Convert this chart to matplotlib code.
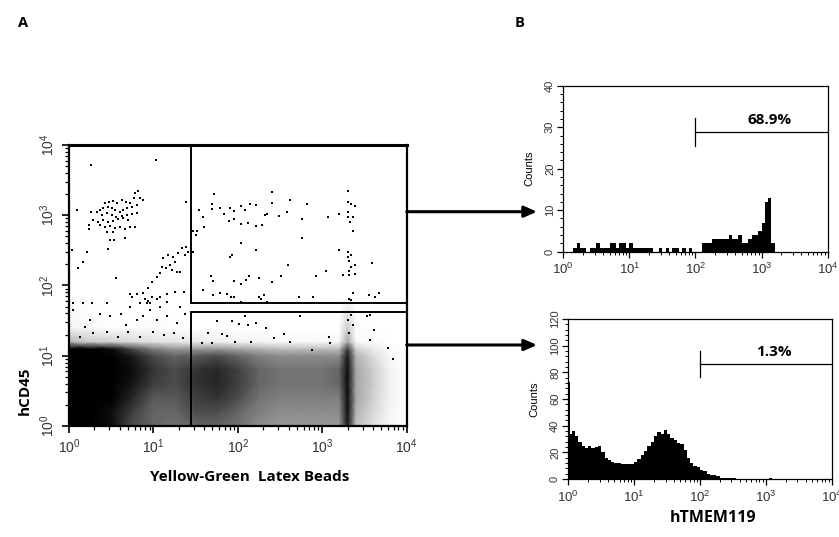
import numpy as np
import matplotlib.pyplot as plt
from matplotlib.ticker import LogLocator, MultipleLocator, NullFormatter
from matplotlib.patches import Rectangle

plt.rcParams['font.family'] = ['Liberation Sans', 'DejaVu Sans']
plt.rcParams['mathtext.fontset'] = 'custom'
plt.rcParams['mathtext.rm'] = 'Liberation Sans'

# ---- panel A: hCD45 vs bead uptake (all positions in log10 decades) ----
# density of the main population (0 = empty, 1 = solid black)
dens_x = [0, 0.25, 0.5, 0.75, 1.0, 1.25, 1.5, 1.75, 2.0, 2.25, 2.5, 2.75, 3.0, 3.2, 3.3, 3.4, 3.6, 3.8, 4.0]
dens_y = [0, 0.2, 0.4, 0.6, 0.8, 1.0, 1.1, 1.2, 1.4, 1.6, 1.8]
dens = [
    [1, 1, 0.95, 0.7, 0.6, 0.55, 0.6, 0.6, 0.55, 0.45, 0.4, 0.4, 0.4, 0.4, 0.9, 0.25, 0.12, 0.03, 0],
    [1, 1, 0.95, 0.75, 0.6, 0.6, 0.7, 0.7, 0.6, 0.5, 0.45, 0.45, 0.45, 0.45, 0.95, 0.3, 0.15, 0.04, 0],
    [1, 1, 1, 0.85, 0.65, 0.65, 0.75, 0.8, 0.7, 0.55, 0.5, 0.5, 0.5, 0.5, 0.95, 0.35, 0.18, 0.05, 0],
    [1, 1, 1, 0.92, 0.75, 0.7, 0.8, 0.85, 0.75, 0.6, 0.55, 0.55, 0.55, 0.6, 0.95, 0.35, 0.2, 0.05, 0],
    [1, 1, 1, 0.95, 0.8, 0.7, 0.8, 0.85, 0.75, 0.6, 0.55, 0.55, 0.55, 0.6, 0.95, 0.35, 0.2, 0.05, 0],
    [1, 1, 1, 0.9, 0.7, 0.6, 0.65, 0.7, 0.6, 0.5, 0.45, 0.45, 0.45, 0.45, 0.9, 0.3, 0.14, 0.03, 0],
    [1, 1, 0.95, 0.7, 0.5, 0.4, 0.4, 0.4, 0.35, 0.3, 0.25, 0.25, 0.25, 0.25, 0.75, 0.18, 0.08, 0.02, 0],
    [0.3, 0.2, 0.18, 0.15, 0.12, 0.1, 0.08, 0.07, 0.05, 0.04, 0.03, 0.03, 0.03, 0.03, 0.35, 0.03, 0.02, 0, 0],
    [0.05, 0.02, 0.01, 0.01, 0.02, 0.01, 0, 0, 0, 0, 0, 0, 0, 0, 0.2, 0.01, 0, 0, 0],
    [0.03, 0.01, 0, 0, 0, 0, 0, 0, 0, 0, 0, 0, 0, 0, 0.12, 0, 0, 0, 0],
    [0.02, 0, 0, 0, 0, 0, 0, 0, 0, 0, 0, 0, 0, 0, 0.03, 0, 0, 0, 0],
]

# sparse events in the upper gate
upper_pts = [
    (1.72, 3.30), (2.40, 3.33), (3.30, 3.35), (1.54, 3.07), (1.70, 3.16), (1.70, 3.09),
    (1.79, 3.10), (1.84, 3.02), (1.91, 3.10), (1.96, 3.06), (2.04, 3.13), (2.09, 3.07),
    (2.14, 3.16), (2.21, 3.14), (2.32, 3.00), (2.34, 3.02), (2.40, 3.18), (2.49, 2.99),
    (2.58, 3.05), (2.62, 3.21), (2.82, 3.16), (2.76, 2.94), (3.07, 2.97), (3.20, 3.02),
    (3.30, 3.19), (3.34, 3.16), (3.39, 3.13), (3.31, 3.05), (3.30, 2.98), (3.37, 2.97),
    (3.33, 2.91), (3.36, 2.78), (1.59, 2.97), (1.60, 2.83), (1.47, 2.78), (1.52, 2.78),
    (1.50, 2.72), (1.89, 2.92), (1.95, 2.94), (2.04, 2.88), (2.12, 2.89), (2.22, 2.85),
    (2.29, 2.86), (2.04, 2.61), (2.76, 2.67), (2.22, 2.51), (1.91, 2.40), (1.93, 2.44),
    (1.47, 2.48), (3.20, 2.51), (3.30, 2.48), (3.34, 2.44), (3.30, 2.40), (3.32, 2.35),
    (3.39, 2.29), (3.34, 2.26), (3.32, 2.21), (3.25, 2.15), (3.32, 2.15), (3.39, 2.17),
    (3.59, 2.32), (2.60, 2.29), (3.05, 2.21), (2.93, 2.13), (2.51, 2.13), (1.45, 2.13),
    (1.68, 2.13), (1.71, 2.07), (1.95, 2.07), (2.04, 2.02), (2.10, 2.08), (2.13, 2.13),
    (2.25, 2.11), (2.40, 2.05), (1.59, 1.94), (1.71, 1.86), (1.79, 1.90), (1.87, 1.88),
    (1.92, 1.83), (1.96, 1.83), (2.25, 1.84), (2.27, 1.81), (2.31, 1.86), (2.35, 1.77),
    (2.04, 1.77), (2.73, 1.84), (2.89, 1.84), (3.32, 1.81), (3.34, 1.80), (3.36, 1.90),
    (3.55, 1.86), (3.62, 1.83), (3.67, 1.90),
]

# sparse events left of the gates (incl. the cluster near 10^0.5 / 10^3)
left_pts = [
    (0.427, 3.170), (0.478, 3.193), (0.525, 3.208), (0.573, 3.170), (0.624, 3.217),
    (0.675, 3.193), (0.723, 3.170), (0.770, 3.241), (0.821, 3.350), (0.782, 3.312),
    (0.841, 3.241), (0.881, 3.217), (0.802, 3.146), (0.742, 3.122), (0.683, 3.098),
    (0.644, 3.075), (0.604, 3.051), (0.545, 3.075), (0.506, 3.098), (0.466, 3.122),
    (0.407, 3.098), (0.367, 3.075), (0.328, 3.051), (0.387, 3.004), (0.446, 3.027),
    (0.506, 3.004), (0.557, 2.980), (0.624, 2.989), (0.683, 3.004), (0.742, 3.018),
    (0.802, 3.027), (0.288, 2.932), (0.348, 2.909), (0.407, 2.932), (0.466, 2.909),
    (0.525, 2.923), (0.585, 2.942), (0.644, 2.956), (0.703, 2.932), (0.367, 2.861),
    (0.427, 2.828), (0.486, 2.847), (0.545, 2.814), (0.604, 2.828), (0.664, 2.800),
    (0.723, 2.828), (0.782, 2.828), (0.446, 2.766), (0.525, 2.766), (0.486, 2.648),
    (0.533, 2.648), (0.664, 2.671), (0.237, 2.861), (0.237, 2.800), (0.466, 2.515),
    (1.386, 3.184), (0.26, 3.71), (1.03, 3.79), (1.00, 3.99), (0.10, 3.07), (0.26, 3.05),
    (1.118, 2.387), (1.177, 2.434), (1.236, 2.410), (1.295, 2.458), (1.335, 2.529),
    (1.386, 2.543), (1.414, 2.482), (1.374, 2.434), (1.256, 2.339), (1.197, 2.292),
    (1.149, 2.244), (1.216, 2.221), (1.276, 2.197), (1.315, 2.197), (1.098, 2.268),
    (1.078, 2.173), (1.039, 2.126), (0.979, 2.055), (0.940, 1.960), (0.881, 1.888),
    (0.900, 1.803), (0.940, 1.784), (0.979, 1.841), (1.039, 1.803), (1.078, 1.841),
    (1.157, 1.879), (0.810, 1.879), (0.723, 1.879), (0.841, 1.746), (0.960, 1.746),
    (1.165, 1.770), (1.256, 1.912), (1.363, 1.912), (0.557, 2.102), (0.170, 2.339),
    (0.103, 2.244), (0.217, 2.482), (0.032, 2.505), (0.004, 2.173), (0.051, 1.746),
    (0.170, 1.746), (0.269, 1.746), (0.446, 1.746), (0.742, 1.841),
    (0.006, 1.30), (0.006, 1.40), (0.006, 1.50), (0.006, 1.60), (0.006, 1.70),
    (0.006, 1.80), (0.006, 1.90), (0.006, 2.00), (0.006, 2.10), (0.006, 2.30),
]

# sparse events just above the dense band
mid_pts = [
    (1.75, 1.50), (2.09, 1.56), (2.74, 1.56), (1.93, 1.50), (2.01, 1.45), (2.22, 1.47),
    (2.12, 1.44), (1.65, 1.32), (1.81, 1.31), (1.87, 1.28), (2.55, 1.31), (2.33, 1.39),
    (2.43, 1.25), (2.62, 1.20), (3.08, 1.26), (3.09, 1.18), (3.34, 1.58), (3.31, 1.51),
    (3.36, 1.44), (3.32, 1.32), (3.53, 1.56), (3.57, 1.58), (3.61, 1.37), (3.57, 1.22),
    (3.78, 1.11), (3.84, 0.96), (1.57, 1.18), (1.69, 1.18), (1.97, 1.20), (2.16, 1.20),
    (2.88, 1.08), (0.05, 1.65), (0.19, 1.41), (0.37, 1.60), (0.49, 1.56), (0.62, 1.60),
    (0.72, 1.70), (0.80, 1.51), (0.92, 1.75), (0.96, 1.65), (0.88, 1.56), (1.04, 1.51),
    (1.16, 1.56), (1.28, 1.46), (1.37, 1.60), (0.13, 1.27), (0.29, 1.32), (0.45, 1.34),
    (0.58, 1.27), (0.70, 1.34), (0.84, 1.27), (1.00, 1.34), (1.12, 1.30), (1.24, 1.32),
    (1.35, 1.25), (0.25, 1.51), (0.68, 1.44), (1.08, 1.70), (1.32, 1.70),
]

gate_x_low = 28
upper_gate_y = (56, 10000)
lower_gate_y = (1, 42)

# ---- panel B: hTMEM119 histograms (bins 0.05 decade wide) ----
h1_edges = np.arange(0, 4.0001, 0.05)
h1_counts = [0, 0, 0, 1, 2, 1, 1, 0, 1, 1, 2, 1, 1, 1, 2, 2, 1, 2, 2, 1,
             2, 1, 1, 1, 1, 1, 1, 0, 0, 1, 0, 1, 0, 1, 1, 0, 1, 0, 1, 0,
             0, 0, 2, 2, 2, 3, 3, 3, 3, 3, 4, 3, 3, 4, 2, 2, 3, 4, 4, 5,
             7, 12, 13, 2, 0, 0, 0, 0, 0, 0, 0, 0, 0, 0, 0, 0, 0, 0, 0, 0]
h1_gate, h1_gate_y, h1_label = 100, 28.8, '68.9%'

h2_edges = np.r_[0, 0.03, np.arange(0.05, 4.0001, 0.05)]
h2_counts = [73, 34, 36, 32, 28, 25, 23, 25, 23, 24, 25, 20, 16, 14, 13, 12, 12, 11, 11, 11, 11,
             13, 15, 18, 21, 25, 28, 32, 35, 34, 37, 34, 31, 29, 27, 26, 22, 16, 12, 10, 9,
             7, 6, 4, 3, 3, 2, 1, 1, 1, 0.5, 0.5, 0, 0, 0, 0, 0, 0, 0, 0, 0,
             0, 1, 0, 0, 0, 0, 0, 0, 0, 0, 0, 0, 0, 0, 0, 0, 0, 0, 0, 0]
h2_gate, h2_gate_y, h2_label = 100, 86.3, '1.3%'

tick_color = '#333333'
bold_font = dict(family=['Open Sans', 'DejaVu Sans'], weight='bold')

fig = plt.figure(figsize=(8.39, 5.37), dpi=100)
ax = fig.add_axes([0.0822, 0.2067, 0.4025, 0.5233])
ax1 = fig.add_axes([0.6714, 0.5313, 0.3151, 0.3091])
ax2 = fig.add_axes([0.6774, 0.1080, 0.3139, 0.2980])

# scatter panel
X, Y = np.meshgrid(10.0 ** np.array(dens_x), 10.0 ** np.array(dens_y))
ax.pcolormesh(X, Y, np.array(dens), shading='gouraud', cmap='gray_r', vmin=0, vmax=1)
for pts in (upper_pts, left_pts, mid_pts):
    p = 10.0 ** np.array(pts)
    ax.scatter(p[:, 0], p[:, 1], s=3, marker='s', color='black', linewidths=0)
for y0, y1 in (upper_gate_y, lower_gate_y):
    ax.add_patch(Rectangle((gate_x_low, y0), 10000 - gate_x_low, y1 - y0,
                           fill=False, edgecolor='black', lw=1.4, clip_on=False, zorder=5))
ax.set_xscale('log')
ax.set_yscale('log')
ax.set_xlim(1, 1e4)
ax.set_ylim(1, 1e4)
for s in ax.spines.values():
    s.set_linewidth(1.6)
ax.spines['top'].set_linewidth(2.2)
ax.tick_params(which='both', direction='out', colors='black', labelcolor=tick_color,
               labelsize=10)
ax.tick_params(which='major', length=5, width=1.2)
ax.tick_params(which='minor', length=3, width=0.9)
ax.tick_params(axis='y', labelrotation=90)
for lab in ax.get_yticklabels():
    lab.set_va('center')
for a in (ax.xaxis, ax.yaxis):
    a.set_major_locator(LogLocator(base=10, numticks=10))
    a.set_minor_locator(LogLocator(base=10, subs=np.arange(2, 10), numticks=10))
    a.set_minor_formatter(NullFormatter())

# histograms
for a, edges, counts, ymax, ystep, ymin_step, gate, gy, lab in (
        (ax1, h1_edges, h1_counts, 40, 10, 2, h1_gate, h1_gate_y, h1_label),
        (ax2, h2_edges, h2_counts, 120, 20, 4, h2_gate, h2_gate_y, h2_label)):
    a.stairs(counts, 10.0 ** edges, fill=True, color='black', lw=0)
    a.set_xscale('log')
    a.set_xlim(1, 1e4)
    a.set_ylim(0, ymax)
    a.yaxis.set_major_locator(MultipleLocator(ystep))
    a.yaxis.set_minor_locator(MultipleLocator(ymin_step))
    a.xaxis.set_major_locator(LogLocator(base=10, numticks=10))
    a.xaxis.set_minor_locator(LogLocator(base=10, subs=np.arange(2, 10), numticks=10))
    a.xaxis.set_minor_formatter(NullFormatter())
    for s in a.spines.values():
        s.set_linewidth(0.9)
    a.tick_params(which='both', direction='out', colors='black', labelcolor=tick_color)
    a.tick_params(which='major', length=4, width=0.9)
    a.tick_params(which='minor', length=2.5, width=0.7)
    a.tick_params(axis='x', labelsize=9.5)
    a.tick_params(axis='y', labelsize=8, labelrotation=90, pad=2)
    for t in a.get_yticklabels():
        t.set_va('center')
    # marker gate
    a.plot([gate, gate], [gy - ymax * 0.083, gy + ymax * 0.083], color='black', lw=0.9)
    a.plot([gate, 1e4], [gy, gy], color='black', lw=0.9, clip_on=False)
    a.text(10 ** ((np.log10(gate) + 4.25) / 2), gy + ymax * 0.03, lab, ha='center',
           va='bottom', fontsize=11, **bold_font)
    a.text(-0.13, 0.5, 'Counts', transform=a.transAxes, rotation=90, ha='center',
           va='center', fontsize=8)

# arrows from gates to histograms
for yf in (1 - 211.7 / 537, 1 - 345 / 537):
    fig.add_artist(plt.Annotation('', xy=(537 / 839, yf), xycoords='figure fraction',
                                  xytext=(406.7 / 839, yf), textcoords='figure fraction',
                                  arrowprops=dict(arrowstyle='-|>,head_length=0.75,head_width=0.33',
                                                  lw=2.2, color='black', mutation_scale=10,
                                                  shrinkA=0, shrinkB=0)))

# labels
fig.text(250 / 839, 1 - 477 / 537, 'Yellow-Green  Latex Beads', ha='center', va='center',
         fontsize=11, **bold_font)
fig.text(25 / 839, 1 - 391 / 537, 'hCD45', rotation=90, ha='center', va='center',
         fontsize=11, **bold_font)
fig.text(713 / 839, 1 - 518 / 537, 'hTMEM119', ha='center', va='center',
         fontsize=11.5, **bold_font)
fig.text(23 / 839, 1 - 23 / 537, 'A', ha='center', va='center', fontsize=10.5, **bold_font)
fig.text(520 / 839, 1 - 23 / 537, 'B', ha='center', va='center', fontsize=10.5, **bold_font)

fig.savefig('out.png', dpi=100)
